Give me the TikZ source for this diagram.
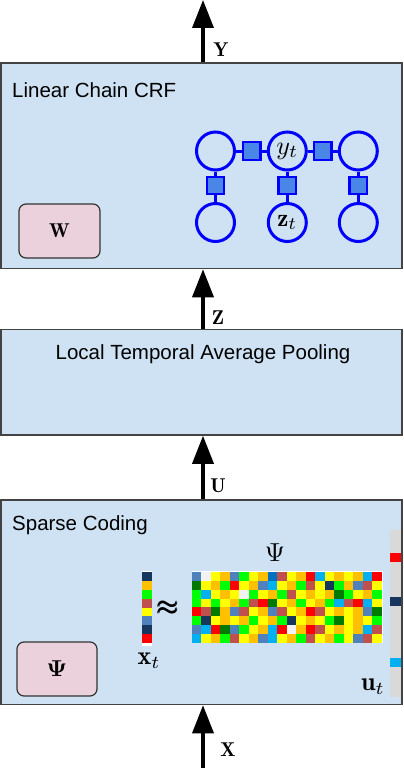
\documentclass[tikz,border=0pt]{standalone}
\usepackage{fontspec}
\usepackage{amsmath,bm}
\usepackage{graphicx}
\newfontfamily\sansf{Liberation Sans}
\usetikzlibrary{arrows.meta}
\newcommand\scmath[2]{\scalebox{#1}{\fontsize{10}{12}\selectfont$#2$}}
\definecolor{boxfill}{HTML}{CFE2F3}
\definecolor{boxline}{HTML}{434343}
\definecolor{pinkfill}{HTML}{EAD1DC}
\definecolor{facfill}{HTML}{4A86E8}
\definecolor{crfblue}{HTML}{0000FF}
\definecolor{barfill}{HTML}{D9D9D9}
\definecolor{cY}{HTML}{FFFF00}
\definecolor{cO}{HTML}{FFC000}
\definecolor{cG}{HTML}{00FF00}
\definecolor{cD}{HTML}{007A00}
\definecolor{cR}{HTML}{FF0000}
\definecolor{cB}{HTML}{C0504D}
\definecolor{cS}{HTML}{4F81BD}
\definecolor{cC}{HTML}{00B0F0}
\definecolor{cN}{HTML}{17365D}
\definecolor{cL}{HTML}{0070C0}
\definecolor{cW}{HTML}{F2F2F2}
\begin{document}
\begin{tikzpicture}[x=1pt,y=-1pt,
  bigbox/.style={draw=boxline, fill=boxfill, line width=1.5pt, inner sep=0pt},
  pinkbox/.style={draw=black!80, fill=pinkfill, line width=1.2pt, rounded corners=7pt, inner sep=0pt},
  bigarrow/.style={line width=3.5pt, -{Triangle[width=21pt,length=28pt]}},
  var/.style={circle, draw=crfblue, line width=3pt, minimum size=38pt, inner sep=0pt},
  fac/.style={rectangle, draw=crfblue, fill=facfill, line width=2.2pt, minimum size=17.5pt, inner sep=0pt},
  link/.style={draw=crfblue, line width=3pt},
  title/.style={anchor=base west, inner sep=0pt, font=\sansf\fontsize{20.5}{24}\selectfont},
  lab/.style={font=\fontsize{20}{24}\selectfont, inner sep=0pt},
  mlab/.style={inner sep=0pt}
]
\useasboundingbox (0,0) rectangle (404,768);

% boxes
\node[bigbox, minimum width=401pt, minimum height=205.5pt] (crf) at (201.5,165.75) {};
\node[bigbox, minimum width=401pt, minimum height=105.5pt] (pool) at (201.5,382.25) {};
\node[bigbox, minimum width=401pt, minimum height=204.5pt] (sc) at (201.5,602.25) {};

\node[title] (t1) at (12,97) {Linear Chain CRF};
\node[anchor=base, inner sep=0pt, font=\sansf\fontsize{20.5}{24}\selectfont] (t2) at (203,359) {Local Temporal Average Pooling};
\node[title] (t3) at (12,530) {Sparse Coding};

\node[pinkbox, minimum width=81pt, minimum height=54pt, font=\fontsize{20}{24}\selectfont] (W) at (59.5,231) {$\mathbf{W}$};
\node[pinkbox, minimum width=80pt, minimum height=54pt] (P) at (57,669) {\scmath{2.3}{\bm{\Psi}}};

% arrows
\coordinate (ytip) at (203,0);
\coordinate (xbot) at (203,768);
\draw[bigarrow] (crf.north -| ytip) -- (ytip);
\draw[bigarrow] (pool.north -| ytip) -- (crf.south -| ytip);
\draw[bigarrow] (sc.north -| ytip) -- (pool.south -| ytip);
\draw[bigarrow] (xbot) -- (sc.south -| ytip);
\node[lab] (lY) at (221,50) {$\mathbf{Y}$};
\node[lab] (lZ) at (218,318) {$\mathbf{Z}$};
\node[lab] (lU) at (218,486) {$\mathbf{U}$};
\node[lab] (lX) at (228,750) {$\mathbf{X}$};

% CRF graph
\node[var] (y1) at (215.5,151) {};
\node[var] (y2) at (287.3,151) {\scmath{2.6}{y_t}};
\node[var] (y3) at (358.3,151) {};
\node[var] (z1) at (215.5,222.5) {};
\node[var] (z2) at (287.3,222.5) {\scmath{2.5}{\mathbf{z}_t}};
\node[var] (z3) at (358.3,222.5) {};
\node[fac] (f12) at (251.8,151) {};
\node[fac] (f23) at (322.8,151) {};
\node[fac] (g1) at (215.5,185.5) {};
\node[fac] (g2) at (287.3,185.5) {};
\node[fac] (g3) at (358.3,185.5) {};
\draw[link] (y1) -- (f12);
\draw[link] (f12) -- (y2);
\draw[link] (y2) -- (f23);
\draw[link] (f23) -- (y3);
\draw[link] (y1) -- (g1);
\draw[link] (g1) -- (z1);
\draw[link] (y2) -- (g2);
\draw[link] (g2) -- (z2);
\draw[link] (y3) -- (g3);
\draw[link] (g3) -- (z3);

% dictionary matrix
\fill[white] (191.7,570.7) rectangle (382.5,642.7);
\foreach \rowlist [count=\ri from 0] in {
 {S,W,Y,O,S,G,Y,O,L,B,Y,O,R,C,Y,O,Y,O,C,R},
 {D,Y,O,G,R,Y,O,S,C,Y,O,G,B,Y,N,G,O,S,B,Y},
 {G,C,Y,O,Y,W,G,Y,O,G,B,Y,O,Y,O,D,G,Y,O,G},
 {G,Y,G,Y,O,G,B,R,D,Y,O,G,Y,O,G,C,B,R,C,Y},
 {R,B,D,O,S,B,Y,O,S,B,Y,O,R,B,Y,O,Y,O,S,D},
 {G,N,Y,O,Y,O,G,Y,O,G,N,Y,O,Y,G,D,Y,O,Y,G},
 {S,C,R,D,S,G,Y,O,C,R,W,O,R,B,Y,O,Y,O,C,B},
 {C,Y,O,G,B,Y,O,S,C,Y,O,G,B,Y,O,G,Y,S,B,Y}} {
  \foreach \cl [count=\ki from 0] in \rowlist {
    \fill[fill=c\cl] (191.7+9.5*\ki, 572+8.84*\ri) rectangle ++(9.5,8.84);
  }
}
\node[mlab] (psi) at (275,553) {\scmath{2.6}{\Psi}};

% x_t vector
\fill[white] (142.3,571.3) rectangle (152.3,646);
\foreach \cl [count=\ki from 0] in {N,O,G,B,Y,S,N,R} {
  \fill[fill=c\cl] (142.3, 572.3+8.8*\ki) rectangle ++(10,8.8);
}
\node[mlab] (xt) at (149,661) {\scmath{2.6}{\mathbf{x}_t}};
\node[mlab] (approx) at (168,608) {\scmath{2.8}{\pmb{\approx}}};

% u_t vector
\fill[barfill] (390,530) rectangle (400.5,697);
\fill[cR] (390,553) rectangle (400.5,562);
\fill[cN] (390,597) rectangle (400.5,606);
\fill[cC] (390,658) rectangle (400.5,667);
\node[mlab] (ut) at (373,687) {\scmath{2.6}{\mathbf{u}_t}};
\end{tikzpicture}
\end{document}
